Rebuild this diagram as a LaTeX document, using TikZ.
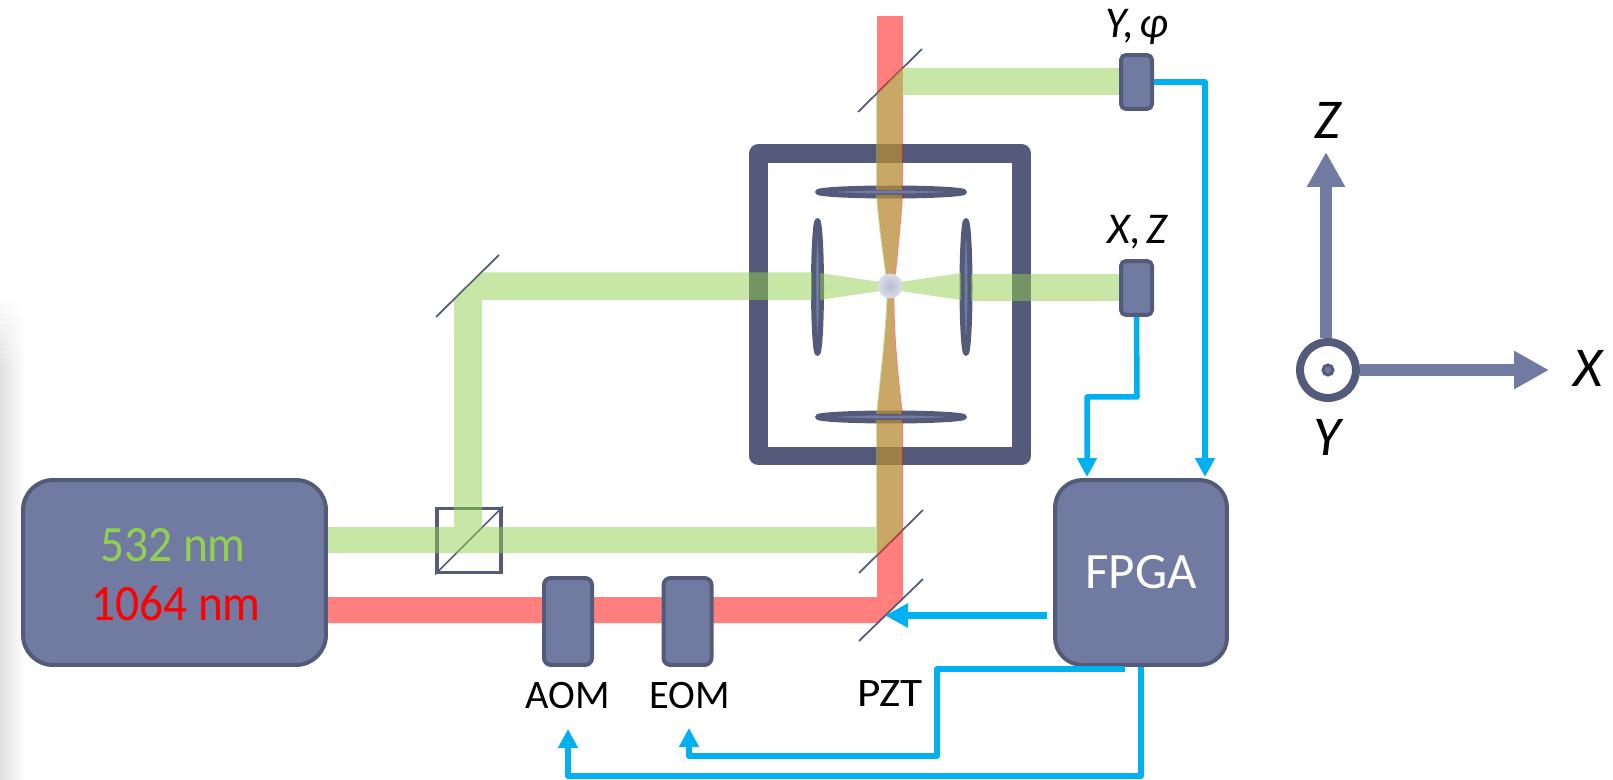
\documentclass[tikz,border=0pt]{standalone}
\usepackage{xcolor}
\usepackage{fontspec}
\setmainfont{Carlito}
\newfontfamily\narrowfont[FakeStretch=0.93]{Carlito}
\newfontfamily\widefont[FakeStretch=1.12]{Carlito}
\usepackage{tikz}
\usetikzlibrary{positioning}
\usetikzlibrary{arrows.meta}
\usetikzlibrary{shapes.geometric}

\definecolor{boxfill}{HTML}{717AA0}
\definecolor{boxline}{HTML}{545A7A}
\definecolor{beamgreen}{HTML}{92D050}
\definecolor{signal}{HTML}{00B0F0}

\tikzset{
    device/.style={draw=boxline, fill=boxfill, line width=0.08cm, inner sep=0pt},
    lens/.style={draw=boxline, fill=boxfill, line width=0.1cm, line join=round, ellipse, inner sep=0pt},
    mirror/.style={draw=boxline, line width=0.035cm},
    greenray/.style={fill=beamgreen, fill opacity=0.5},
    redray/.style={fill=red, fill opacity=0.5},
    wire/.style={draw=signal, line width=0.11cm, line join=round, -{Triangle[length=0.38cm, width=0.38cm]}},
    axis/.style={draw=boxfill, line width=0.24cm, -{Triangle[length=0.7cm, width=0.72cm]}},
    smalltext/.style={font=\fontsize{23}{25}\selectfont, inner sep=0pt},
    coordtext/.style={font=\fontsize{25}{27}\selectfont\itshape, inner sep=0pt},
    bigtext/.style={font=\fontsize{29}{32}\selectfont, inner sep=0pt},
    axistext/.style={font=\fontsize{32}{34}\selectfont\itshape, inner sep=0pt}
}

\begin{document}
\begin{tikzpicture}[x=0.02cm, y=-0.02cm]
    \useasboundingbox (0,0) rectangle (1613,780);

    % grey edge on the left
    \shade[left color=black!12, right color=white] (0,370) rectangle (25,780);
    \foreach \i in {1,...,14}
        \shade[left color=black!12, right color=white, opacity=\i/15] (0,{300+5*(\i-1)}) rectangle (25,{300+5*\i});

    % things the rays pass over
    \draw[boxline, line width=0.38cm, line join=round] (758.5,153.5) rectangle (1021.5,456);
    \node (cube) [draw=boxline, line width=0.07cm, minimum width=1.29cm, minimum height=1.29cm, inner sep=0pt] at (469,540.5) {};
    \draw[mirror] (cube.south west) -- (cube.north east);
    \draw[mirror] (436,317) -- (499,255);
    \draw[mirror] (858,112) -- (922,49);
    \draw[mirror] (859,573) -- (923,510);
    \draw[mirror] (859,641) -- (923,579);

    \node (lenstop) [lens, minimum width=2.94cm, minimum height=0.16cm] at (891,192) {};
    \node (lensbottom) [lens, minimum width=2.94cm, minimum height=0.16cm] at (891,417) {};
    \node (lensleft) [lens, minimum width=0.16cm, minimum height=2.66cm] at (817.5,287) {};
    \node (lensright) [lens, minimum width=0.16cm, minimum height=2.66cm] at (966,287) {};

    % red ray
    \fill[redray] (328,597) -- (877,597) -- (877,420) -- (903,420) -- (903,597) -- (877,623) -- (328,623) -- cycle;
    \fill[redray] (877,414) .. controls (881,375) and (886.5,330) .. (887.5,296) -- (894.5,296) .. controls (894,330) and (898,375) .. (903,414) -- cycle;
    \fill[redray] (877,195) .. controls (879,225) and (885,265) .. (887,280) -- (895,280) .. controls (897,265) and (901,225) .. (903,195) -- cycle;
    \fill[redray] (877,16) rectangle (903,190);

    % green ray
    \fill[greenray] (326,527) -- (876,527) -- (876,420) -- (902,420) -- (902,530) -- (876,556) -- (876,553) -- (326,553) -- cycle;
    \fill[greenray] (876,414) .. controls (880,375) and (885.5,330) .. (886.5,296) -- (893.5,296) .. controls (893,330) and (897,375) .. (902,414) -- cycle;
    \fill[greenray] (876,195) .. controls (878,225) and (884,265) .. (886,280) -- (894,280) .. controls (896,265) and (900,225) .. (902,195) -- cycle;
    \fill[greenray] (876,95) -- (902,68) -- (1119,68) -- (1119,95) -- (902,95) -- (902,190) -- (876,190) -- cycle;
    \fill[greenray] (454,527) -- (454,300) -- (482,272.5) -- (812,272.5) -- (812,300) -- (482,300) -- (482,527) -- cycle;
    \fill[greenray] (820,273) -- (880,282) -- (880,291) -- (820,300) -- cycle;
    \fill[greenray] (961,273) -- (900,282) -- (900,291) -- (961,300) -- cycle;
    \fill[greenray] (971,274) rectangle (1119,301);

    \node (atom) [circle, minimum size=0.5cm, inner sep=0pt, inner color=boxfill!50!white, outer color=boxfill!25!white] at (890,286) {};

    % devices
    \node (laser) [device, rounded corners=0.6cm, minimum width=6.06cm, minimum height=3.7cm] at (174.5,572.5) {};
    \node (greenline) [bigtext, text=beamgreen] at (173,545) {\narrowfont 532 nm};
    \node (redline) [bigtext, text=red] at (176,603) {\narrowfont 1064 nm};
    \node (aom) [device, rounded corners=0.14cm, minimum width=0.96cm, minimum height=1.74cm] at (568,621.5) {};
    \node (eom) [device, rounded corners=0.14cm, minimum width=0.96cm, minimum height=1.74cm] at (687.5,621.5) {};
    \node (fpga) [device, rounded corners=0.55cm, minimum width=3.44cm, minimum height=3.7cm, text=white, bigtext] at (1141,572.5) {FPGA};
    \node (detyphi) [device, rounded corners=0.1cm, minimum width=0.62cm, minimum height=1.08cm] at (1136.5,82) {};
    \node (detxz) [device, rounded corners=0.1cm, minimum width=0.62cm, minimum height=1.08cm] at (1136.5,288) {};

    % labels
    \node (aomlabel) [smalltext, below=0.3cm of aom] {AOM};
    \node (eomlabel) [smalltext, below=0.3cm of eom, xshift=0.04cm] {EOM};
    \node (pztlabel) [smalltext] at (890,694) {\widefont PZT};
    \node (yphilabel) [coordtext] at (1137,27) {Y,\hspace{0.12em}φ};
    \node (xzlabel) [coordtext] at (1137,232) {X,\hspace{0.12em}Z};

    % signal lines
    \coordinate (fpgay) at (1205,477);
    \coordinate (fpgax) at (1087,477);
    \coordinate (xzbend) at (1137,397);
    \coordinate (pzt) at (885,615.5);
    \coordinate (eomin) at (689,728);
    \coordinate (aomin) at (568,729);

    \draw[wire] (detyphi.east) -| (fpgay);
    \draw[wire] (detxz.south) -- (xzbend) -| (fpgax);
    \draw[wire, line width=0.14cm, -{Triangle[length=0.46cm, width=0.46cm]}] (1047,615.5) -- (pzt);
    \draw[wire] (fpga.south) ++(-16,2) -- ++(-188,0) |- (700,756) -| (eomin);
    \draw[wire] (fpga.south) -- (1141,776) -| (aomin);

    % axes
    \node (origin) [circle, draw=boxline, fill=white, line width=0.16cm, minimum size=1.12cm, inner sep=0pt] at (1328,370) {};
    \node (ydot) [circle, draw=boxline, fill=boxfill, line width=0.06cm, minimum size=0.2cm, inner sep=0pt] at (origin) {};
    \coordinate (ztip) at (1326,152);
    \coordinate (xtip) at (1549,370);
    \draw[axis] (ztip |- origin.north) -- (ztip);
    \draw[axis] (origin.east) -- (xtip);
    \node (zlabel) [axistext] at (1328,120) {Z};
    \node (xlabel) [axistext] at (1588,368) {X};
    \node (ylabel) [axistext] at (1327,437) {Y};
\end{tikzpicture}
\end{document}
